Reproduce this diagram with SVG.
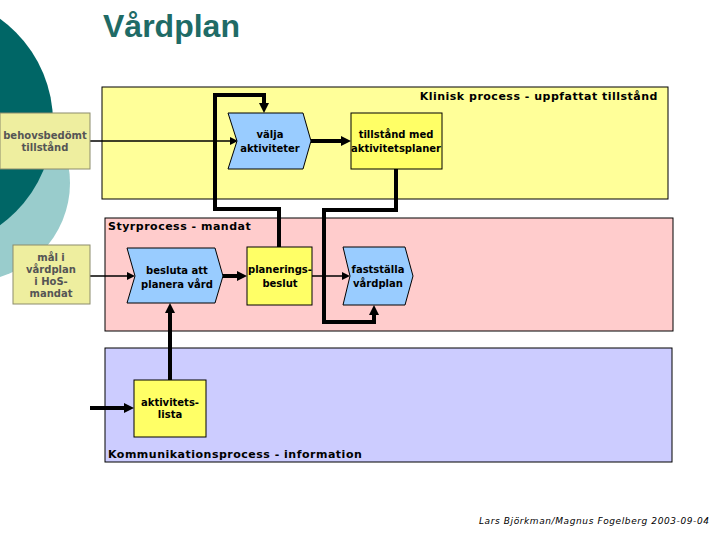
<svg xmlns="http://www.w3.org/2000/svg" width="720" height="540" viewBox="0 0 720 540">
<style>
.region{stroke:#000;stroke-width:1}
.rt{font-family:"DejaVu Sans",Verdana,sans-serif;font-weight:bold;font-size:11px;letter-spacing:0.5px;fill:#000}
.nt{font-family:"DejaVu Sans",Verdana,sans-serif;font-weight:bold;font-size:10px;fill:#000;text-anchor:middle}
.it{font-family:"DejaVu Sans",Verdana,sans-serif;font-weight:bold;font-size:10px;fill:#555;text-anchor:middle}
.chev{fill:#99ccff;stroke:#000;stroke-width:1}
.box{fill:#ffff66;stroke:#000;stroke-width:1}
.inp{fill:#eeee9f;stroke:#8c8c6c;stroke-width:1}
.thick{fill:none;stroke:#000;stroke-width:4}
.thin{fill:none;stroke:#000;stroke-width:1.5}
</style>
<defs>
<marker id="ah" markerUnits="userSpaceOnUse" markerWidth="10" markerHeight="10" refX="0" refY="5" orient="auto"><path d="M0,0 L10,5 L0,10 Z" fill="#000"/></marker>
<marker id="as" markerUnits="userSpaceOnUse" markerWidth="8" markerHeight="8" refX="0" refY="4" orient="auto"><path d="M0,0 L8,4 L0,8 Z" fill="#000"/></marker>
</defs>
<rect width="720" height="540" fill="#fff"/>
<g id="background">
<circle cx="-28" cy="183" r="98" fill="#99cccc"/>
<circle cx="-74" cy="122" r="127" fill="#006666"/>
</g>
<text x="103" y="37" font-family="'Liberation Sans',Arial,sans-serif" font-weight="bold" font-size="32" fill="#1f6b66">Vårdplan</text>
<g id="region-klinisk">
<rect class="region" x="102" y="87" width="566" height="112" fill="#ffff99"/>
<text class="rt" x="658" y="100" text-anchor="end">Klinisk process - uppfattat tillstånd</text>
</g>
<g id="region-styr">
<rect class="region" x="105" y="218" width="568" height="113" fill="#ffcccc"/>
<text class="rt" x="108" y="230">Styrprocess - mandat</text>
</g>
<g id="region-komm">
<rect class="region" x="105" y="348" width="567" height="114" fill="#ccccff"/>
<text class="rt" x="108" y="458">Kommunikationsprocess - information</text>
</g>
<g id="connectors">
<path class="thin" d="M90,141 H230" marker-end="url(#as)"/>
<path class="thick" d="M311,141 H341" marker-end="url(#ah)"/>
<path class="thick" d="M279,247 V209 H215 V95 H264 V103" marker-end="url(#ah)"/>
<path class="thick" d="M396,169 V210 H324 V322 H374 V315" marker-end="url(#ah)"/>
<path class="thin" d="M90,276 H127" marker-end="url(#as)"/>
<path class="thick" d="M222,276 H237" marker-end="url(#ah)"/>
<path class="thin" d="M312,276 H342" marker-end="url(#as)"/>
<path class="thick" d="M170,380 V313" marker-end="url(#ah)"/>
<path class="thick" d="M90,408 H124" marker-end="url(#ah)"/>
</g>
<g id="behovsbedomt">
<rect class="inp" x="0" y="113" width="90" height="56"/>
<text class="it" x="45" y="139">behovsbedömt</text>
<text class="it" x="45" y="151">tillstånd</text>
</g>
<g id="mal">
<rect class="inp" x="13" y="245" width="77" height="59"/>
<text class="it" x="51" y="261">mål i</text>
<text class="it" x="51" y="273">vårdplan</text>
<text class="it" x="51" y="285">i HoS-</text>
<text class="it" x="51" y="297">mandat</text>
</g>
<g id="valja">
<path class="chev" d="M228,113 H303 L311,141 L303,169 H228 L237,141 Z"/>
<text class="nt" x="270" y="138">välja</text>
<text class="nt" x="270" y="152">aktiviteter</text>
</g>
<g id="tillstand">
<rect class="box" x="351" y="113" width="91" height="56"/>
<text class="nt" x="396" y="138">tillstånd med</text>
<text class="nt" x="396" y="152">aktivitetsplaner</text>
</g>
<g id="besluta">
<path class="chev" d="M127,248 H215 L223,276 L215,303 H127 L135,276 Z"/>
<text class="nt" x="177" y="274">besluta att</text>
<text class="nt" x="177" y="288">planera vård</text>
</g>
<g id="planeringsbeslut">
<rect class="box" x="247" y="247" width="65" height="58"/>
<text class="nt" x="280" y="273">planerings-</text>
<text class="nt" x="280" y="287">beslut</text>
</g>
<g id="faststalla">
<path class="chev" d="M343,247 H405 L413,276 L405,305 H343 L350,276 Z"/>
<text class="nt" x="378" y="273">fastställa</text>
<text class="nt" x="378" y="287">vårdplan</text>
</g>
<g id="aktivitetslista">
<rect class="box" x="134" y="380" width="72" height="57"/>
<text class="nt" x="170" y="406">aktivitets-</text>
<text class="nt" x="170" y="418">lista</text>
</g>
<text x="709" y="524" text-anchor="end" font-family="'DejaVu Sans',Verdana,sans-serif" font-style="italic" font-size="9" textLength="230" fill="#000">Lars Björkman/Magnus Fogelberg 2003-09-04</text>
</svg>
